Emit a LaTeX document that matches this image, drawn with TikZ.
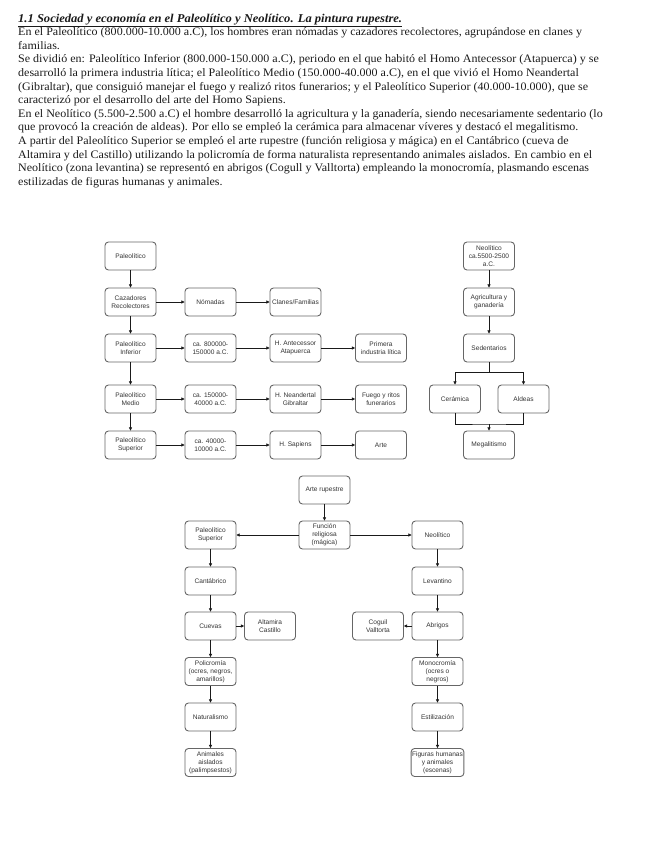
\documentclass[tikz,border=0pt]{standalone}
\usepackage{fontspec}
\setmainfont[FakeStretch=1.05]{Liberation Serif}
\newfontfamily\boxfont{Liberation Sans}
\usetikzlibrary{arrows.meta}
\definecolor{ink}{HTML}{1A1A1A}
\definecolor{frame}{HTML}{666666}
\definecolor{label}{HTML}{333333}

\begin{document}
\begin{tikzpicture}[x=1bp,y=-1bp,
  line/.style={anchor=base west, inner sep=0pt, text=ink,
               font=\fontsize{11.5}{13.5}\selectfont},
  box/.style={draw=frame, line width=0.9bp, rounded corners=3.5bp, fill=white,
              align=center, minimum width=51bp, minimum height=28bp, inner sep=1pt,
              font=\boxfont\fontsize{6.6}{8}\selectfont, text=label},
  flow/.style={-{Triangle[length=3.2bp,width=3.2bp]}, line width=0.7bp, draw=ink},
  link/.style={line width=0.7bp, draw=ink}]

\path[use as bounding box] (0,0) rectangle (646,848);

% ------------------------------------------------------------------ text
\node[line, font=\fontsize{12}{13.5}\selectfont] (t0) at (18,22)
  {\textbf{\textit{\underline{1.1 Sociedad y economía en el Paleolítico y Neolítico. La pintura rupestre.}}}};
\node[line] (t1) at (18,35.6) {En el Paleolítico (800.000-10.000 a.C), los hombres eran nómadas y cazadores recolectores, agrupándose en clanes y};
\node[line] (t2) at (18,49.2) {familias.};
\node[line] (t3) at (18,62.8) {Se dividió en: Paleolítico Inferior (800.000-150.000 a.C), periodo en el que habitó el Homo Antecessor (Atapuerca) y se};
\node[line] (t4) at (18,76.4) {desarrolló la primera industria lítica; el Paleolítico Medio (150.000-40.000 a.C), en el que vivió el Homo Neandertal};
\node[line] (t5) at (18,90.0) {(Gibraltar), que consiguió manejar el fuego y realizó ritos funerarios; y el Paleolítico Superior (40.000-10.000), que se};
\node[line] (t6) at (18,103.6) {caracterizó por el desarrollo del arte del Homo Sapiens.};
\node[line] (t7) at (18,117.2) {En el Neolítico (5.500-2.500 a.C) el hombre desarrolló la agricultura y la ganadería, siendo necesariamente sedentario (lo};
\node[line] (t8) at (18,130.8) {que provocó la creación de aldeas). Por ello se empleó la cerámica para almacenar víveres y destacó el megalitismo.};
\node[line] (t9) at (18,144.4) {A partir del Paleolítico Superior se empleó el arte rupestre (función religiosa y mágica) en el Cantábrico (cueva de};
\node[line] (t10) at (18,158.0) {Altamira y del Castillo) utilizando la policromía de forma naturalista representando animales aislados. En cambio en el};
\node[line] (t11) at (18,171.6) {Neolítico (zona levantina) se representó en abrigos (Cogull y Valltorta) empleando la monocromía, plasmando escenas};
\node[line] (t12) at (18,185.2) {estilizadas de figuras humanas y animales.};

% ------------------------------------------------------------------ Paleolitico
\node[box] (pal) at (130.5,256) {Paleolítico};
\node[box] (caz) at (130.5,302) {Cazadores\\Recolectores};
\node[box] (nom) at (210.5,302) {Nómadas};
\node[box] (clan) at (295.5,302) {Clanes/Familias};

\node[box] (pinf) at (130.5,348) {Paleolítico\\Inferior};
\node[box] (dinf) at (210.5,348) {ca. 800000-\\150000 a.C.};
\node[box] (hant) at (295.5,348) {H. Antecessor\\Atapuerca};
\node[box] (prim) at (381,348) {Primera\\industria lítica};

\node[box] (pmed) at (130.5,399) {Paleolítico\\Medio};
\node[box] (dmed) at (210.5,399) {ca. 150000-\\40000 a.C.};
\node[box] (hnea) at (295.5,399) {H. Neandertal\\Gibraltar};
\node[box] (fueg) at (381,399) {Fuego y ritos\\funerarios};

\node[box] (psup) at (130.5,445) {Paleolítico\\Superior};
\node[box] (dsup) at (210.5,445) {ca. 40000-\\10000 a.C.};
\node[box] (hsap) at (295.5,445) {H. Sapiens};
\node[box] (arte) at (381,445) {Arte};

\draw[flow] (pal) -- (caz);
\draw[flow] (caz) -- (pinf);
\draw[flow] (pinf) -- (pmed);
\draw[flow] (pmed) -- (psup);
\draw[flow] (caz) -- (nom);
\draw[flow] (nom) -- (clan);
\draw[flow] (pinf) -- (dinf);
\draw[flow] (dinf) -- (hant);
\draw[flow] (hant) -- (prim);
\draw[flow] (pmed) -- (dmed);
\draw[flow] (dmed) -- (hnea);
\draw[flow] (hnea) -- (fueg);
\draw[flow] (psup) -- (dsup);
\draw[flow] (dsup) -- (hsap);
\draw[flow] (hsap) -- (arte);

% ------------------------------------------------------------------ Neolitico
\node[box] (neo) at (489,256) {Neolítico\\ca.5500-2500\\a.C.};
\node[box] (agri) at (489,302) {Agricultura y\\ganadería};
\node[box] (sed) at (489,348) {Sedentarios};
\node[box] (cer) at (455,399) {Cerámica};
\node[box] (ald) at (523.5,399) {Aldeas};
\node[box] (meg) at (489,445) {Megalitismo};

\draw[flow] (neo) -- (agri);
\draw[flow] (agri) -- (sed);
\coordinate (split) at (489,372);
\coordinate (join) at (489,424);
\draw[link] (sed.south) -- (split);
\draw[flow] (split) -| (cer.north);
\draw[flow] (split) -| (ald.north);
\draw[link] (cer.south) |- (join) -| (ald.south);
\draw[flow] (join) -- (meg.north);

% ------------------------------------------------------------------ arte rupestre
\node[box] (rup) at (324.5,490) {Arte rupestre};
\node[box] (fun) at (324.5,535) {Función\\religiosa\\(mágica)};
\node[box] (psr) at (210.5,535) {Paleolítico\\Superior};
\node[box] (neor) at (437.5,535) {Neolítico};

\node[box] (cant) at (210.5,581) {Cantábrico};
\node[box] (cuev) at (210.5,626) {Cuevas};
\node[box] (alta) at (270,626) {Altamira\\Castillo};
\node[box] (poli) at (210.5,671.5) {Policromía\\(ocres, negros,\\amarillos)};
\node[box] (natu) at (210.5,717) {Naturalismo};
\node[box] (anim) at (210.5,762.5) {Animales\\aislados\\(palimpsestos)};

\node[box] (leva) at (437.5,581) {Levantino};
\node[box] (abri) at (437.5,626) {Abrigos};
\node[box] (cogu) at (378,626) {Coguil\\Valltorta};
\node[box] (mono) at (437.5,671.5) {Monocromía\\(ocres o\\negros)};
\node[box] (esti) at (437.5,717) {Estilización};
\node[box] (figu) at (437.5,762.5) {Figuras humanas\\y animales\\(escenas)};

\draw[flow] (rup) -- (fun);
\draw[flow] (fun) -- (psr);
\draw[flow] (fun) -- (neor);
\draw[flow] (psr) -- (cant);
\draw[flow] (cant) -- (cuev);
\draw[flow] (cuev) -- (alta);
\draw[flow] (cuev) -- (poli);
\draw[flow] (poli) -- (natu);
\draw[flow] (natu) -- (anim);
\draw[flow] (neor) -- (leva);
\draw[flow] (leva) -- (abri);
\draw[flow] (abri) -- (cogu);
\draw[flow] (abri) -- (mono);
\draw[flow] (mono) -- (esti);
\draw[flow] (esti) -- (figu);
\end{tikzpicture}
\end{document}
